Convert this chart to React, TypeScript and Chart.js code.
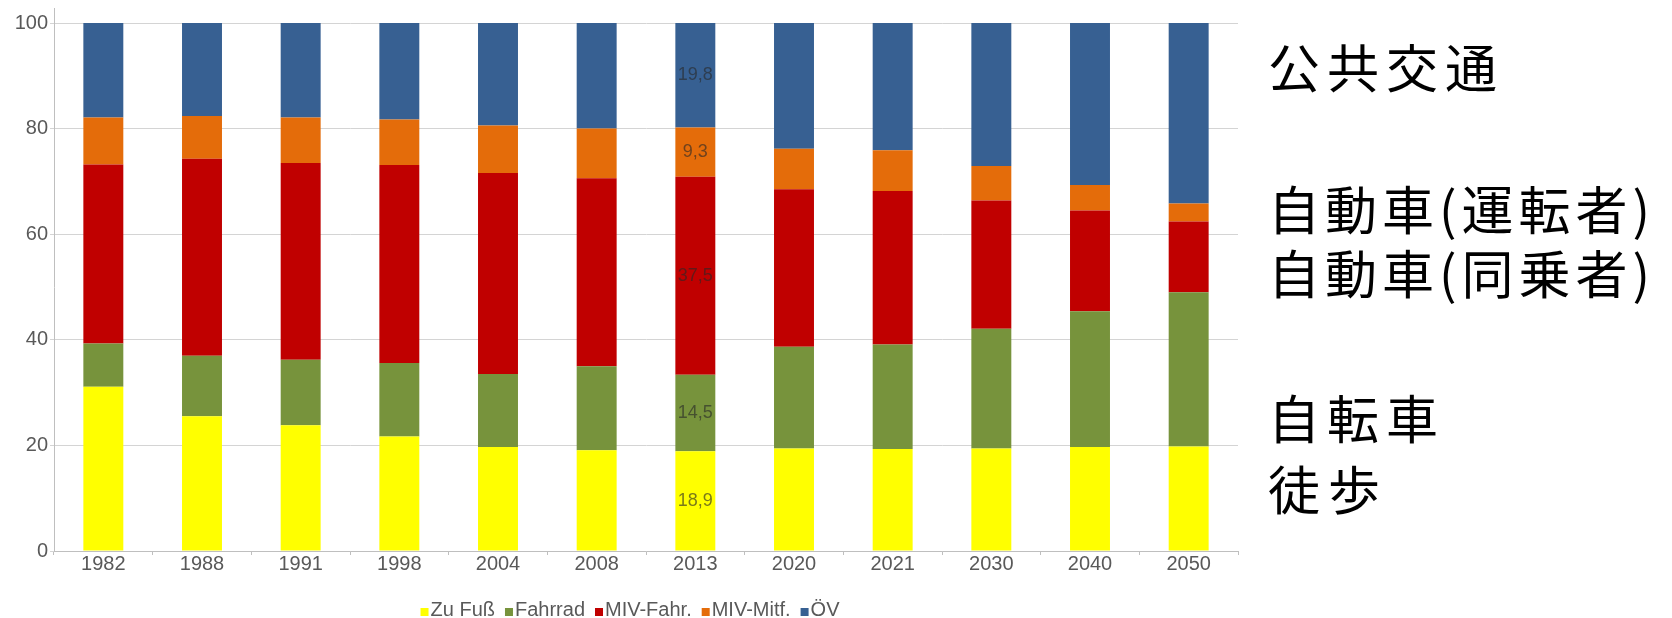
import React, { useEffect, useRef } from "react";
import { Chart, registerables } from "chart.js";

Chart.register(...registerables);

const years = ["1982", "1988", "1991", "1998", "2004", "2008", "2013", "2020", "2021", "2030", "2040", "2050"];
const zuFuss = [31.1, 25.5, 23.8, 21.7, 19.7, 19.1, 18.9, 19.4, 19.3, 19.4, 19.7, 19.8];
const fahrrad = [8.2, 11.5, 12.4, 13.9, 13.8, 15.9, 14.5, 19.3, 19.8, 22.7, 25.7, 29.2];
const mivFahr = [33.9, 37.3, 37.3, 37.5, 38.1, 35.6, 37.5, 29.8, 29.1, 24.3, 19.1, 13.4];
const mivMitf = [8.9, 8.1, 8.6, 8.6, 9.0, 9.4, 9.3, 7.7, 7.7, 6.5, 4.8, 3.4];
const oev = [17.9, 17.6, 17.9, 18.3, 19.4, 20.0, 19.8, 23.8, 24.1, 27.1, 30.7, 34.2];
const seriesNames = ["Zu Fuß", "Fahrrad", "MIV-Fahr.", "MIV-Mitf.", "ÖV"];
const seriesColors = ["#FFFF00", "#77933C", "#C00000", "#E46C0A", "#376092"];
const yTicks = [0, 20, 40, 60, 80, 100];
const labeledYear = "2013";
const sideLabels = ["公共交通", "自動車(運転者)", "自動車(同乗者)", "自転車", "徒歩"];

const FONT = '"Liberation Sans", Arial, sans-serif';
const CANVAS_W = 1245;
const CANVAS_H = 618;
const LEGEND_CX = 630;
const LEGEND_Y = 610;

const valueLabels = {
  id: "valueLabels",
  afterDatasetsDraw(chart: any) {
    const idx = chart.data.labels.indexOf(labeledYear);
    if (idx < 0) return;
    const ctx = chart.ctx;
    ctx.save();
    ctx.font = `18px ${FONT}`;
    ctx.fillStyle = "rgba(40,40,40,0.62)";
    ctx.textAlign = "center";
    ctx.textBaseline = "middle";
    chart.data.datasets.forEach((ds: any, i: number) => {
      const el = chart.getDatasetMeta(i).data[idx];
      const v = ds.data[idx];
      const y = (el.y + el.base) / 2;
      ctx.fillText(v.toFixed(1).replace(".", ","), el.x, y);
    });
    ctx.restore();
  },
};

const extras = {
  id: "extras",
  afterDraw(chart: any) {
    const ctx = chart.ctx;
    const a = chart.chartArea;
    ctx.save();
    // y axis line continues a little above the top gridline
    ctx.strokeStyle = "#bfbfbf";
    ctx.lineWidth = 1;
    ctx.beginPath();
    ctx.moveTo(a.left + 0.5, a.top - 15);
    ctx.lineTo(a.left + 0.5, a.top);
    ctx.stroke();
    // legend
    ctx.font = `20px ${FONT}`;
    const box = 8;
    const gapBT = 2;
    const gapItem = 10;
    const items = chart.data.datasets.map((ds: any) => ({
      text: ds.label,
      color: ds.backgroundColor,
      w: ctx.measureText(ds.label).width,
    }));
    const total =
      items.reduce((s: number, it: any) => s + box + gapBT + it.w, 0) + gapItem * (items.length - 1);
    let x = LEGEND_CX - total / 2;
    ctx.textBaseline = "middle";
    ctx.textAlign = "left";
    items.forEach((it: any) => {
      ctx.fillStyle = it.color;
      ctx.fillRect(x, LEGEND_Y - box / 2 + 2, box, box);
      x += box + gapBT;
      ctx.fillStyle = "#595959";
      ctx.fillText(it.text, x, LEGEND_Y);
      x += it.w + gapItem;
    });
    ctx.restore();
  },
};

function StackChart() {
  const ref = useRef<HTMLCanvasElement | null>(null);
  useEffect(() => {
    if (!ref.current) return;
    const data = [zuFuss, fahrrad, mivFahr, mivMitf, oev];
    const chart = new Chart(ref.current, {
      type: "bar",
      data: {
        labels: years,
        datasets: data.map((d, i) => ({
          label: seriesNames[i],
          data: d,
          backgroundColor: seriesColors[i],
          borderWidth: 0,
          categoryPercentage: 1,
          barPercentage: 0.405,
        })),
      },
      options: {
        responsive: false,
        animation: false,
        layout: { padding: { top: 23, right: 7, left: 0, bottom: 0 } },
        plugins: {
          tooltip: { enabled: false },
          legend: { display: false },
        },
        scales: {
          x: {
            stacked: true,
            grid: { drawOnChartArea: false, drawTicks: true, tickLength: 4, color: "#bfbfbf" },
            border: { color: "#bfbfbf", width: 1 },
            ticks: { font: { family: FONT, size: 20 }, color: "#595959", padding: -3, maxRotation: 0 },
            afterFit: (s: any) => {
              s.height = 67;
            },
          },
          y: {
            stacked: true,
            min: 0,
            max: 100,
            afterBuildTicks: (s: any) => {
              s.ticks = yTicks.map((v) => ({ value: v }));
            },
            grid: { color: "#d4d4d4", tickLength: 4 },
            border: { color: "#bfbfbf", width: 1 },
            ticks: { font: { family: FONT, size: 20 }, color: "#595959", padding: 2 },
            afterFit: (s: any) => {
              s.width = 54;
            },
          },
        },
      },
      plugins: [valueLabels, extras],
    });
    return () => chart.destroy();
  }, []);
  return <canvas ref={ref} width={CANVAS_W} height={CANVAS_H} style={{ display: "block" }} />;
}

const sideTops = [40, 182, 246, 391, 462];
const sideSpacing = [7, 5, 5, 7, 8];

export default function App() {
  return (
    <div style={{ position: "relative", width: 1672, height: 618, overflow: "hidden", background: "#fff" }}>
      <style>{`body{margin:0;overflow:hidden;background:#fff}`}</style>
      <div style={{ position: "absolute", left: 0, top: 0, width: CANVAS_W, height: CANVAS_H }}>
        <StackChart />
      </div>
      {sideLabels.map((t, i) => (
        <div
          key={t}
          style={{
            position: "absolute",
            left: 1268,
            top: sideTops[i],
            fontFamily: '"Noto Sans CJK JP", sans-serif',
            fontSize: 52,
            lineHeight: 1,
            letterSpacing: sideSpacing[i],
            color: "#000",
            whiteSpace: "nowrap",
          }}
        >
          {t}
        </div>
      ))}
    </div>
  );
}
